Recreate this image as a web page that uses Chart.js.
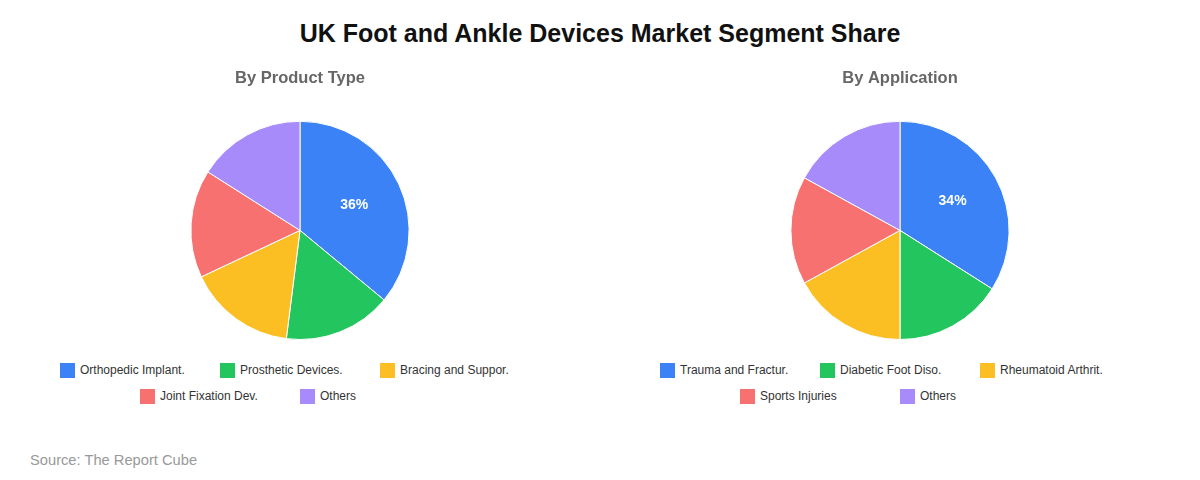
<!DOCTYPE html>
<html>
<head>
<meta charset="utf-8">
<script src="https://cdn.jsdelivr.net/npm/chart.js@4.4.1/dist/chart.umd.min.js"></script>
<style>
  body { margin: 0; background: #fff; font-family: "Liberation Sans", Arial, sans-serif; }
  .wrapper { width: 1200px; height: 480px; position: relative; }
  h1 { position: absolute; top: 18px; left: 0; width: 1200px; margin: 0; text-align: center;
       font-size: 25px; font-weight: bold; color: #111; line-height: 30px; }
  .panel { position: absolute; top: 62px; width: 600px; }
  .panel canvas { display: block; }
  .legend { width: 600px; display: flex; flex-wrap: wrap; justify-content: center; margin-top: 17px; }
  .legend-item { width: 160px; height: 26px; display: flex; align-items: center; font-size: 12px; color: #333; }
  .legend-box { width: 15px; height: 15px; margin-right: 5px; flex: none; }
  .source { position: absolute; left: 30px; top: 452px; font-size: 14.7px; color: #999; }
</style>
</head>
<body>
<div class="wrapper">
  <h1>UK Foot and Ankle Devices Market Segment Share</h1>
  <div class="panel" style="left:0">
    <div style="height:278px"><canvas id="productChart"></canvas></div>
    <div class="legend" id="productLegend"></div>
  </div>
  <div class="panel" style="left:600px">
    <div style="height:278px"><canvas id="appChart"></canvas></div>
    <div class="legend" id="appLegend"></div>
  </div>
  <div class="source">Source: The Report Cube</div>
</div>

<script>
// Segment data
const productLabels = ['Orthopedic Implant.', 'Prosthetic Devices.', 'Bracing and Suppor.', 'Joint Fixation Dev.', 'Others'];
const productShares = [36, 16, 16, 16, 16];

const appLabels = ['Trauma and Fractur.', 'Diabetic Foot Diso.', 'Rheumatoid Arthrit.', 'Sports Injuries', 'Others'];
const appShares = [34, 16, 17, 16, 17];

const sliceColors = ['#3b82f6', '#22c55e', '#fbbf24', '#f87171', '#a78bfa'];

// percent label only on the big slices
const pctLabels = {
  id: 'pctLabels',
  afterDatasetsDraw(chart) {
    const ctx = chart.ctx;
    const meta = chart.getDatasetMeta(0);
    const data = chart.data.datasets[0].data;
    const total = data.reduce((a, b) => a + b, 0);
    ctx.save();
    ctx.font = 'bold 14px "Liberation Sans", Arial, sans-serif';
    ctx.fillStyle = '#fff';
    ctx.textAlign = 'center';
    ctx.textBaseline = 'middle';
    meta.data.forEach((arc, i) => {
      const pct = data[i] / total * 100;
      if (pct < 20) return;
      const p = arc.getProps(['x', 'y', 'startAngle', 'endAngle', 'outerRadius'], true);
      const mid = (p.startAngle + p.endAngle) / 2;
      const r = p.outerRadius * 0.55;
      ctx.fillText(Math.round(pct) + '%', p.x + Math.cos(mid) * r, p.y + Math.sin(mid) * r);
    });
    ctx.restore();
  }
};

function makePie(canvasId, legendId, title, labels, values) {
  const ctx = document.getElementById(canvasId).getContext('2d');
  new Chart(ctx, {
    type: 'pie',
    data: {
      labels: labels,
      datasets: [{
        data: values,
        backgroundColor: sliceColors,
        borderColor: '#fff',
        borderWidth: 1
      }]
    },
    options: {
      responsive: true,
      maintainAspectRatio: false,
      animation: false,
      layout: { padding: 0 },
      plugins: {
        legend: { display: false },
        tooltip: { enabled: false },
        title: {
          display: true,
          text: title,
          color: '#666',
          font: { family: '"Liberation Sans", Arial, sans-serif', size: 16.5, weight: 'bold' },
          padding: { top: 7, bottom: 32 }
        }
      }
    },
    plugins: [pctLabels]
  });

  // legend with fixed-width items
  document.getElementById(legendId).innerHTML = labels
    .map((l, i) => `<div class="legend-item"><span class="legend-box" style="background:${sliceColors[i]}"></span>${l}</div>`)
    .join('');
}

makePie('productChart', 'productLegend', 'By Product Type', productLabels, productShares);
makePie('appChart', 'appLegend', 'By Application', appLabels, appShares);
</script>
</body>
</html>
